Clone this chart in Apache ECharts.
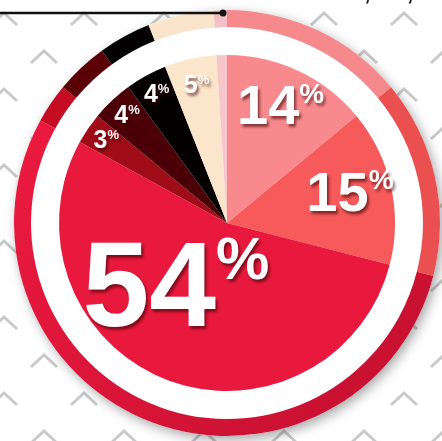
<!DOCTYPE html>
<html>
<head>
<meta charset="utf-8">
<script src="https://cdn.jsdelivr.net/npm/echarts@6/dist/echarts.min.js"></script>
<style>
  html, body { margin: 0; padding: 0; background: #fff; }
  #chart { width: 442px; height: 441px; }
</style>
</head>
<body>
<div id="chart"></div>
<script>
const shares = [14, 15, 54, 3, 4, 4, 5, 1];
const shareLabels = ['14%', '15%', '54%', '3%', '4%', '4%', '5%', ''];
const innerColors = ['#F88A8D', '#F65A5A', '#E8193D', '#A00C18', '#4A0006', '#050000', '#FBE6CC', '#F7C6CB'];
const ringColors = ['#F5898B', '#E9504F', '#E0173A', '#C40C22', '#5C0008', '#020000', '#FAE5CB', '#F5C0C5'];
const headline = '1,320,000';

// chevron background tile
const makeTile = () => {
    const c = document.createElement('canvas');
    c.width = 80; c.height = 76;
    const ctx = c.getContext('2d');
    ctx.strokeStyle = '#c9c9c9';
    ctx.lineWidth = 3;
    const chev = (x, y) => {
        ctx.beginPath();
        ctx.moveTo(x - 13, y + 12);
        ctx.lineTo(x, y);
        ctx.lineTo(x + 13, y + 12);
        ctx.stroke();
    };
    chev(4, 13); chev(84, 13);
    chev(44, 51);
    return c.toDataURL();
};
document.getElementById('chart').style.backgroundImage = 'url(' + makeTile() + ')';

const fam = '"Liberation Sans", Arial, sans-serif';
const pctRich = (numSize) => ({
    n: { fontSize: numSize, fontWeight: 'bold', fontFamily: fam, color: '#fff', lineHeight: numSize },
    p: { fontSize: Math.round(numSize * 0.5), fontWeight: 'bold', fontFamily: fam, color: '#fff',
         verticalAlign: 'top', lineHeight: Math.round(numSize * 0.5) }
});
const fmt = (s) => '{n|' + s.replace('%', '') + '}{p|%}';

const shadowTxt = {
    textShadowColor: 'rgba(60,0,0,0.6)',
    textShadowBlur: 3,
    textShadowOffsetX: 2,
    textShadowOffsetY: 3
};

// label anchors: middle of each slice (in percent of the turn)
const total = shares.reduce((a, b) => a + b, 0);
let run = 0;
const mids = shares.map((v) => { const m = run + v / 2; run += v; return m / total * 100; });
const labelPoints = (keep) => shares.map((v, i) => ({
    value: [v >= 10 ? 126 : (v >= 5 ? 140 : 146), mids[i]],
    name: shareLabels[i]
})).filter((d, i) => keep(shares[i]) && shareLabels[i]);

const chart = echarts.init(document.getElementById('chart'));
const center = [227, 223];

chart.setOption({
    animation: false,
    polar: { center: center, radius: 168 },
    angleAxis: { type: 'value', min: 0, max: 100, startAngle: 90, clockwise: true, show: false },
    radiusAxis: { type: 'value', min: 0, max: 168, show: false },
    graphic: [
        { type: 'line', shape: { x1: 0, y1: 13, x2: 223, y2: 13 }, style: { stroke: '#111', lineWidth: 2.5 }, z: 10 },
        { type: 'circle', shape: { cx: 223, cy: 13, r: 3.5 }, style: { fill: '#111' }, z: 10 },
        { type: 'text', left: 352, top: -17, style: { text: headline, font: 'bold 22px "Liberation Sans", Arial, sans-serif', fill: '#111' }, z: 10 }
    ],
    series: [
        {
            type: 'pie', center: center, radius: [196, 213], silent: true,
            label: { show: false }, labelLine: { show: false },
            itemStyle: { color: '#fff', shadowBlur: 12, shadowColor: 'rgba(0,0,0,0.35)', shadowOffsetX: 3, shadowOffsetY: 4 },
            data: [1], z: 1
        },
        {
            type: 'pie', center: center, radius: [0, 196], silent: true,
            label: { show: false }, labelLine: { show: false },
            itemStyle: { color: '#fff' }, data: [1], z: 1
        },
        {
            type: 'pie', center: center, radius: [196, 213], startAngle: 90, silent: true,
            label: { show: false }, labelLine: { show: false },
            data: shares.map((v, i) => ({
                value: v,
                itemStyle: {
                    color: i === 2
                        ? { type: 'linear', x: 0, y: 0, x2: 1, y2: 1, colorStops: [
                            { offset: 0, color: '#EC1A40' }, { offset: 1, color: '#C20F2E' }] }
                        : ringColors[i]
                }
            })),
            z: 2
        },
        {
            type: 'pie', center: center, radius: [0, 168], startAngle: 90, silent: true,
            labelLine: { show: false },
            label: {
                show: true, position: 'inside', formatter: (p) => fmt(p.name), rich: pctRich(120), ...shadowTxt
            },
            data: shares.map((v, i) => ({
                value: v, name: shareLabels[i],
                itemStyle: { color: innerColors[i] },
                label: { show: v > 50, offset: [-19, -11] }
            })),
            z: 3
        },
        {
            type: 'scatter', coordinateSystem: 'polar', silent: true,
            symbolSize: 1, itemStyle: { color: 'rgba(0,0,0,0)', opacity: 1 },
            label: { show: true, position: 'inside', formatter: (p) => fmt(p.name), rich: pctRich(56), ...shadowTxt },
            data: labelPoints((v) => v >= 10 && v < 50), z: 4
        },
        {
            type: 'scatter', coordinateSystem: 'polar', silent: true,
            symbolSize: 1, itemStyle: { color: 'rgba(0,0,0,0)', opacity: 1 },
            label: { show: true, position: 'inside', formatter: (p) => fmt(p.name), rich: pctRich(25), ...shadowTxt },
            data: labelPoints((v) => v < 10), z: 4
        }
    ]
});
</script>
</body>
</html>
